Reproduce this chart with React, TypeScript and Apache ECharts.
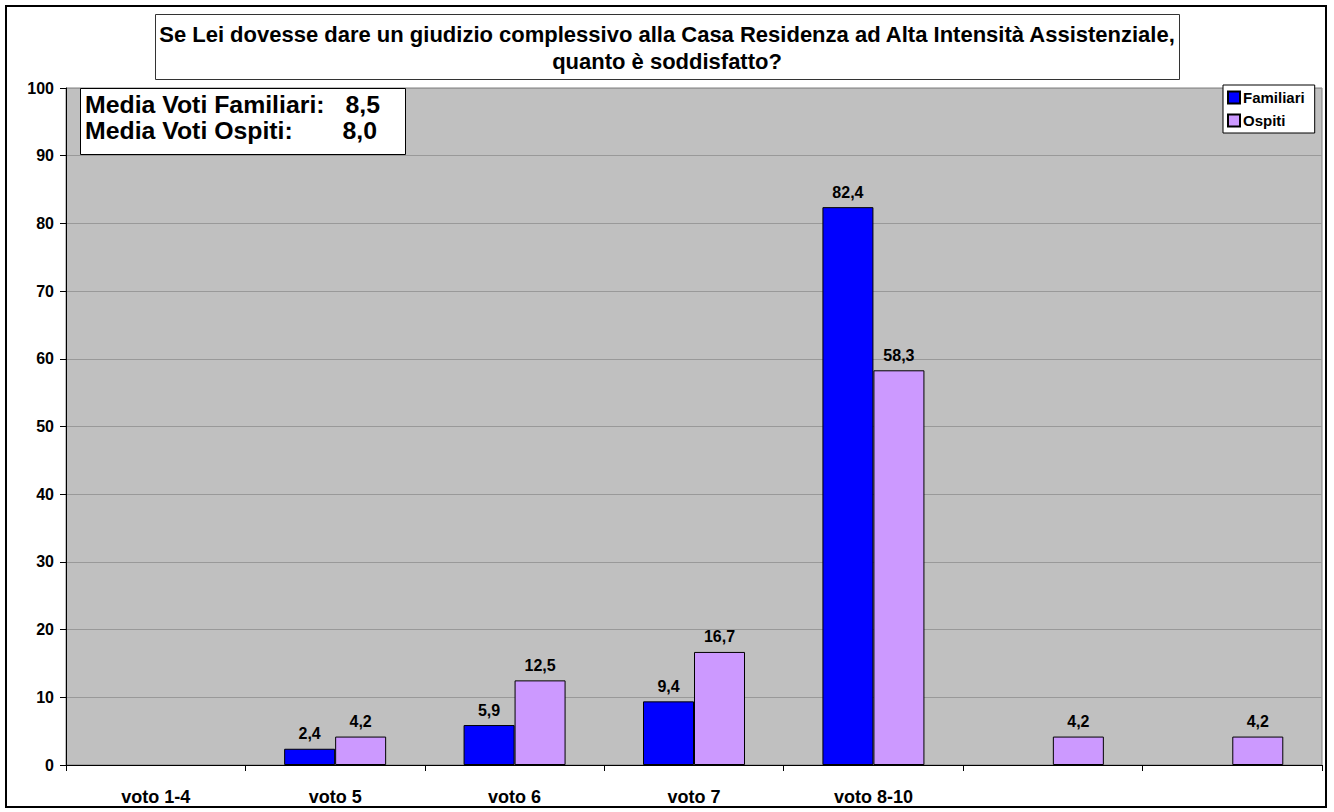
import React, { useEffect, useRef } from "react";
import * as echarts from "echarts";

const categories = ["voto 1-4", "voto 5", "voto 6", "voto 7", "voto 8-10", "", ""];
const familiari: (number | null)[] = [null, 2.4, 5.9, 9.4, 82.4, null, null];
const ospiti: (number | null)[] = [null, 4.2, 12.5, 16.7, 58.3, 4.2, 4.2];
const seriesNames = ["Familiari", "Ospiti"];
const titleLines = [
  "Se Lei dovesse dare un giudizio complessivo alla Casa Residenza ad Alta Intensità Assistenziale,",
  "quanto è soddisfatto?",
];
const mediaLabels = ["Media Voti Familiari:", "Media Voti Ospiti:"];
const mediaValues = ["8,5", "8,0"];

const FONT = "Arial, 'Liberation Sans', Helvetica, sans-serif";

export default function App() {
  const ref = useRef<HTMLDivElement>(null);
  useEffect(() => {
    document.body.style.margin = "0";
    const chart = echarts.init(ref.current!, null, { renderer: "svg" });
    const fmt = (p: any) => (p.value == null ? "" : Number(p.value).toFixed(1).replace(".", ","));
    const barLabel = {
      show: true,
      position: "top" as const,
      distance: 7,
      formatter: fmt,
      fontFamily: FONT,
      fontWeight: "bold" as const,
      fontSize: 16,
      color: "#000",
    };
    const mediaText = (text: string, x: number, y: number, align: "left" | "right") => ({
      type: "text",
      x,
      y,
      scaleX: 1.08,
      style: {
        text,
        font: `bold 23px ${FONT}`,
        lineHeight: 23,
        fill: "#000",
        align,
        verticalAlign: "middle",
      },
      z: 101,
    });
    chart.setOption({
      animation: false,
      textStyle: { fontFamily: FONT },
      grid: {
        left: 66,
        right: 12,
        top: 88,
        bottom: 47,
        show: true,
        backgroundColor: "#C0C0C0",
        borderColor: "#808080",
        borderWidth: 1,
      },
      legend: {
        orient: "vertical",
        left: 1223,
        top: 85,
        backgroundColor: "#fff",
        borderColor: "#000",
        borderWidth: 1,
        padding: [5, 10, 5, 4],
        itemGap: 8,
        itemWidth: 12,
        itemHeight: 12,
        icon: "rect",
        textStyle: { fontFamily: FONT, fontWeight: "bold", fontSize: 15, color: "#000", padding: [0, 0, 0, -2] },
        data: seriesNames,
      },
      xAxis: {
        type: "category",
        data: categories,
        axisLine: { lineStyle: { color: "#000", width: 1 } },
        axisTick: { show: true, length: 6, lineStyle: { color: "#000" } },
        axisLabel: {
          fontFamily: FONT,
          fontWeight: "bold",
          fontSize: 18,
          color: "#000",
          margin: 23,
          interval: 0,
        },
      },
      yAxis: {
        type: "value",
        min: 0,
        max: 100,
        interval: 10,
        axisLine: { show: true, lineStyle: { color: "#000", width: 1 } },
        axisTick: { show: true, length: 6, lineStyle: { color: "#000" } },
        axisLabel: { fontFamily: FONT, fontWeight: "bold", fontSize: 16, color: "#000", margin: 12 },
        splitLine: { show: true, lineStyle: { color: "#999999", width: 1 } },
      },
      series: [
        {
          name: seriesNames[0],
          type: "bar",
          data: familiari,
          barWidth: 51,
          barGap: "0%",
          itemStyle: { color: "#0000FF", borderColor: "#000", borderWidth: 1 },
          label: barLabel,
        },
        {
          name: seriesNames[1],
          type: "bar",
          data: ospiti,
          barWidth: 51,
          barGap: "0%",
          itemStyle: { color: "#CC99FF", borderColor: "#000", borderWidth: 1 },
          label: barLabel,
        },
      ],
      graphic: [
        {
          type: "rect",
          shape: { x: 6, y: 6, width: 1320, height: 801 },
          style: { fill: "none", stroke: "#000", lineWidth: 2 },
          silent: true,
          z: 100,
        },
        {
          type: "rect",
          shape: { x: 155.5, y: 14.5, width: 1024, height: 65 },
          style: { fill: "#fff", stroke: "#333", lineWidth: 1 },
          z: 100,
        },
        {
          type: "text",
          x: 667,
          y: 34,
          style: {
            text: titleLines[0],
            font: `bold 22px ${FONT}`,
            fill: "#000",
            align: "center",
            verticalAlign: "middle",
          },
          z: 101,
        },
        {
          type: "text",
          x: 667,
          y: 61,
          style: {
            text: titleLines[1],
            font: `bold 22px ${FONT}`,
            fill: "#000",
            align: "center",
            verticalAlign: "middle",
          },
          z: 101,
        },
        {
          type: "rect",
          shape: { x: 80.5, y: 88.5, width: 325, height: 66 },
          style: { fill: "#fff", stroke: "#000", lineWidth: 1 },
          z: 100,
        },
        mediaText(mediaLabels[0], 85, 105, "left"),
        mediaText(mediaValues[0], 380, 105, "right"),
        mediaText(mediaLabels[1], 85, 131, "left"),
        mediaText(mediaValues[1], 377, 131, "right"),
      ],
    });
    return () => chart.dispose();
  }, []);
  return <div ref={ref} style={{ width: 1334, height: 812 }} />;
}
